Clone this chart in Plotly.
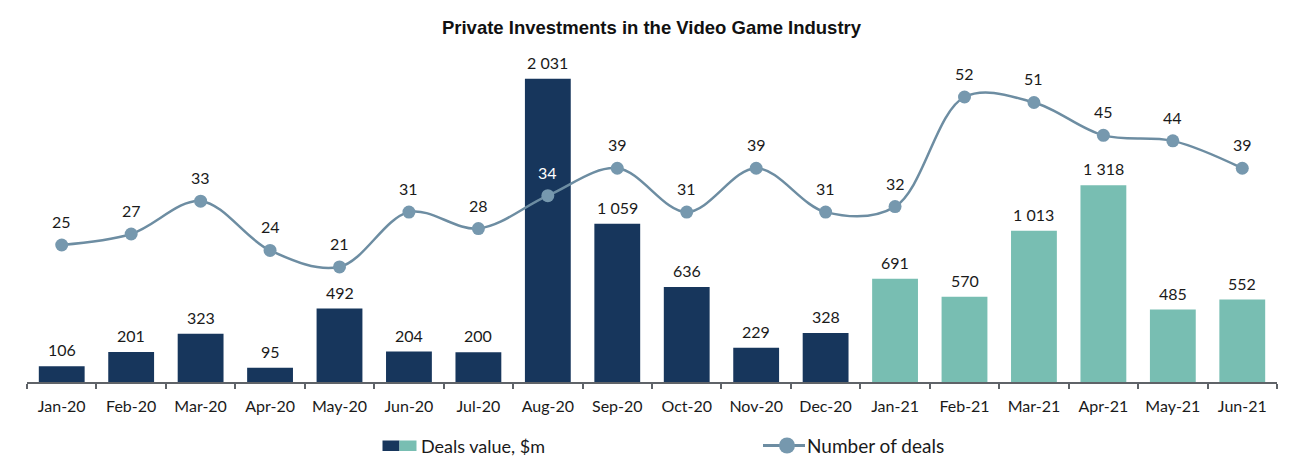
import plotly.graph_objects as go

months = ["Jan-20", "Feb-20", "Mar-20", "Apr-20", "May-20", "Jun-20", "Jul-20", "Aug-20",
          "Sep-20", "Oct-20", "Nov-20", "Dec-20", "Jan-21", "Feb-21", "Mar-21", "Apr-21",
          "May-21", "Jun-21"]
deals_value = [106, 201, 323, 95, 492, 204, 200, 2031, 1059, 636, 229, 328,
               691, 570, 1013, 1318, 485, 552]
deals_count = [25, 27, 33, 24, 21, 31, 28, 34, 39, 31, 39, 31, 32, 52, 51, 45, 44, 39]

DARK = "#17365C"
TEAL = "#78BEB2"
LINE = "#6D8DA2"
MARK = "#7698AE"
FONT = "Lato, 'Open Sans', sans-serif"
TXT = "#1a1a1a"

bar_colors = [DARK if m.endswith("20") else TEAL for m in months]

def fmt(v):
    return f"{v:,}".replace(",", " ")

W, H = 1312, 466
OFF = 8  # page body offset
L, R, T, B = 19, 43, 32, 92
pw, ph = W - L - R, H - T - B

def fx(x):  # screen x -> plot paper fraction
    return (x - OFF - L) / pw

def fy(y):  # screen y -> plot paper fraction
    return (H - B - (y - OFF)) / ph

fig = go.Figure()
fig.add_trace(go.Bar(x=months, y=deals_value, marker=dict(color=bar_colors, line=dict(width=0)),
                     yaxis="y", showlegend=False, hoverinfo="skip"))
fig.add_trace(go.Scatter(x=months, y=deals_count, mode="lines+markers", yaxis="y2",
                         line=dict(color=LINE, width=2.5, shape="spline", smoothing=1.0),
                         marker=dict(color=MARK, size=13), showlegend=False, hoverinfo="skip"))

annotations = []
for m, v in zip(months, deals_value):
    annotations.append(dict(x=m, y=v, xref="x", yref="y", text=fmt(v), showarrow=False,
                            yanchor="bottom", yshift=5,
                            font=dict(family=FONT, size=16, color=TXT)))
for m, v in zip(months, deals_count):
    color = "white" if m == "Aug-20" else TXT
    annotations.append(dict(x=m, y=v, xref="x", yref="y2", text=str(v), showarrow=False,
                            yanchor="bottom", yshift=12,
                            font=dict(family=FONT, size=16, color=color)))

annotations.append(dict(x=fx(419), y=fy(445.5), xref="paper", yref="paper", text="Deals value, $m",
                        showarrow=False, xanchor="left", yanchor="middle",
                        font=dict(family=FONT, size=18, color=TXT)))
annotations.append(dict(x=fx(805), y=fy(445.5), xref="paper", yref="paper", text="Number of deals",
                        showarrow=False, xanchor="left", yanchor="middle",
                        font=dict(family=FONT, size=19, color=TXT)))

fig.update_layout(
    width=W, height=H,
    margin=dict(l=L, r=R, t=T, b=B),
    paper_bgcolor="white", plot_bgcolor="white",
    bargap=0.34,
    title=dict(text="<b>Private Investments in the Video Game Industry</b>",
               x=(651.5 - OFF) / W, xanchor="center", y=1 - (27.5 - OFF) / H, yanchor="middle",
               font=dict(family="'Liberation Sans', Arial, sans-serif", size=18.5, color="#111")),
    xaxis=dict(type="category", range=[-0.5, len(months) - 0.5], showline=True,
               linecolor="#5f6368", linewidth=1.5,
               ticks="outside", tickson="boundaries", ticklen=5, tickcolor="#5f6368", tickwidth=1.5,
               ticklabelstandoff=9,
               tickfont=dict(family=FONT, size=16, color=TXT), showgrid=False,
               zeroline=False, fixedrange=True),
    yaxis=dict(range=[0, 2290], visible=False, showgrid=False, zeroline=False),
    yaxis2=dict(range=[0, 62.4], overlaying="y", visible=False, showgrid=False, zeroline=False),
    annotations=annotations,
)

fig.add_shape(type="rect", xref="paper", yref="paper", x0=fx(382.5), x1=fx(399.5),
              y0=fy(451), y1=fy(440.5), fillcolor=DARK, line=dict(width=0))
fig.add_shape(type="rect", xref="paper", yref="paper", x0=fx(399.5), x1=fx(416.5),
              y0=fy(451), y1=fy(440.5), fillcolor=TEAL, line=dict(width=0))
fig.add_shape(type="line", xref="paper", yref="paper", x0=fx(763), x1=fx(805),
              y0=fy(445.5), y1=fy(445.5), line=dict(color=LINE, width=3))
fig.add_shape(type="circle", xref="paper", yref="paper", x0=fx(779), x1=fx(795),
              y0=fy(453.5), y1=fy(437.5), fillcolor=MARK, line=dict(width=0))

fig.write_html("out.html")
